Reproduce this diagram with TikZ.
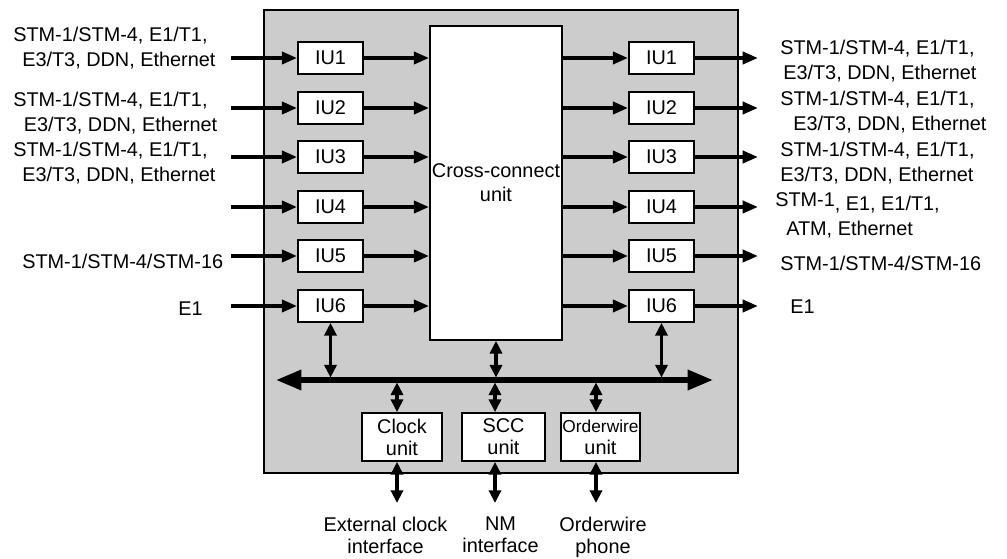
\documentclass[tikz,border=0pt]{standalone}
\usepackage{fontspec}
\setmainfont{Liberation Sans}
\usetikzlibrary{arrows.meta,positioning}
\definecolor{panel}{HTML}{CCCCCC}
\newcommand{\lblfont}{\fontsize{14.9}{18.75}\selectfont}
\newcommand{\unitfont}{\fontsize{14.9}{16.5}\selectfont}
\newcommand{\owfont}{\fontsize{13}{16.5}\selectfont}
\tikzset{
  iu/.style={draw,line width=1.3pt,fill=white,minimum width=48.75pt,minimum height=24pt,inner sep=0pt,font=\lblfont},
  ctl/.style={iu,align=center,minimum height=36pt,font=\unitfont},
  lab/.style={inner sep=0pt,align=left,anchor=west,font=\lblfont},
  blab/.style={inner sep=0pt,align=center,anchor=north,font=\unitfont},
  ar/.style={-{Triangle[length=11.5pt,width=9pt]},line width=2.9pt},
  dar/.style={{Triangle[length=9.5pt,width=9pt]}-{Triangle[length=9.5pt,width=9pt]},line width=2.4pt},
  busar/.style={{Triangle[length=19pt,width=14.5pt]}-{Triangle[length=19pt,width=14.5pt]},line width=4pt},
}
\begin{document}
\begin{tikzpicture}[x=0.75pt,y=-0.75pt]
\useasboundingbox (0,0) rectangle (1007,559);
% network element frame
\draw[line width=1.3pt,fill=panel] (264,10) rectangle (738,473);
\node[iu,minimum width=99pt,minimum height=235.5pt,align=center,font=\fontsize{14.9}{18}\selectfont] (cc) at (496,183) {Cross-connect\\unit};
% interface units, west side
\node[iu] (iul1) at (330.5,58) {IU1};
\node[iu] (iul2) at (330.5,108) {IU2};
\node[iu] (iul3) at (330.5,157) {IU3};
\node[iu] (iul4) at (330.5,207) {IU4};
\node[iu] (iul5) at (330.5,256) {IU5};
\node[iu] (iul6) at (330.5,306) {IU6};
% interface units, east side
\node[iu] (iur1) at (661.5,58) {IU1};
\node[iu] (iur2) at (661.5,108) {IU2};
\node[iu] (iur3) at (661.5,157) {IU3};
\node[iu] (iur4) at (661.5,207) {IU4};
\node[iu] (iur5) at (661.5,256) {IU5};
\node[iu] (iur6) at (661.5,306) {IU6};
% tributary / line signals
\node[lab] (sigl1) at (13,47.7) {STM-1/STM-4, E1/T1,\\\hspace*{6.75pt}E3/T3, DDN, Ethernet};
\node[lab] (sigl2) at (13,113.5) {STM-1/STM-4, E1/T1,\\\hspace*{8pt}E3/T3, DDN, Ethernet};
\node[lab] (sigl3) at (13,163.5) {STM-1/STM-4, E1/T1,\\\hspace*{6.75pt}E3/T3, DDN, Ethernet};
\node[lab] (sigl5) at (22,261) {STM-1/STM-4/STM-16};
\node[lab] (sigl6) at (178,309) {E1};
\node[lab] (sigr1) at (780,61.5) {STM-1/STM-4, E1/T1,\\\hspace*{2.25pt}E3/T3, DDN, Ethernet};
\node[lab] (sigr2) at (780,112.5) {STM-1/STM-4, E1/T1,\\\hspace*{9.75pt}E3/T3, DDN, Ethernet};
\node[lab] (sigr3) at (780,163.5) {STM-1/STM-4, E1/T1,\\E3/T3, DDN, Ethernet};
\node[lab] (sigr4) at (775,215.5) {\raisebox{3pt}{STM-1}, E1, E1/T1,\\\hspace*{8.25pt}ATM, Ethernet};
\node[lab] (sigr5) at (780,263) {STM-1/STM-4/STM-16};
\node[lab] (sigr6) at (790,307) {E1};
\coordinate (in1) at (231,58);
\coordinate (in2) at (231,108);
\coordinate (in3) at (231,157);
\coordinate (in4) at (231,207);
\coordinate (in5) at (231,256);
\coordinate (in6) at (231,306);
\coordinate (out1) at (758,58);
\coordinate (out2) at (758,108);
\coordinate (out3) at (758,157);
\coordinate (out4) at (758,207);
\coordinate (out5) at (758,256);
\coordinate (out6) at (758,306);
\draw[ar] (in1) -- (iul1); \draw[ar] (iul1) -- (iul1 -| cc.west);
\draw[ar] (in2) -- (iul2); \draw[ar] (iul2) -- (iul2 -| cc.west);
\draw[ar] (in3) -- (iul3); \draw[ar] (iul3) -- (iul3 -| cc.west);
\draw[ar] (in4) -- (iul4); \draw[ar] (iul4) -- (iul4 -| cc.west);
\draw[ar] (in5) -- (iul5); \draw[ar] (iul5) -- (iul5 -| cc.west);
\draw[ar] (in6) -- (iul6); \draw[ar] (iul6) -- (iul6 -| cc.west);
\draw[ar] (iur1 -| cc.east) -- (iur1); \draw[ar] (iur1) -- (out1);
\draw[ar] (iur2 -| cc.east) -- (iur2); \draw[ar] (iur2) -- (out2);
\draw[ar] (iur3 -| cc.east) -- (iur3); \draw[ar] (iur3) -- (out3);
\draw[ar] (iur4 -| cc.east) -- (iur4); \draw[ar] (iur4) -- (out4);
\draw[ar] (iur5 -| cc.east) -- (iur5); \draw[ar] (iur5) -- (out5);
\draw[ar] (iur6 -| cc.east) -- (iur6); \draw[ar] (iur6) -- (out6);
% internal bus
\coordinate (busl) at (276,380);
\coordinate (busr) at (713,380);
\draw[busar] (busl) -- (busr);
\draw[dar,shorten >=1.8pt] (iul6.south) -- (iul6.south |- busl);
\draw[dar,shorten >=1.8pt] (cc.south) -- (cc.south |- busl);
\draw[dar,shorten >=1.8pt] (iur6.south) -- (iur6.south |- busl);
% control units
\node[ctl,minimum width=60pt] (clk) at (402,437) {Clock\\unit};
\node[ctl,minimum width=62.25pt] (scc) at (503.5,437) {SCC\\unit};
\node[ctl,minimum width=59.25pt] (ow) at (600.5,437) {{\owfont Orderwire}\\unit};
\coordinate (pclk) at (397,503);
\coordinate (pscc) at (495,503);
\coordinate (pow) at (596,503);
\draw[dar,shorten <=1.8pt] (pclk |- busl) -- (pclk |- clk.north);
\draw[dar,shorten <=1.8pt] (pscc |- busl) -- (pscc |- scc.north);
\draw[dar,shorten <=1.8pt] (pow |- busl) -- (pow |- ow.north);
\draw[dar] (pclk |- clk.south) -- (pclk);
\draw[dar] (pscc |- scc.south) -- (pscc);
\draw[dar] (pow |- ow.south) -- (pow);
\node[blab] (extclk) at (385.5,517) {External clock\\interface};
\node[blab] (nm) at (500.5,517) {NM\\interface};
\node[blab] (owph) at (603,517) {Orderwire\\phone};
\end{tikzpicture}
\end{document}
